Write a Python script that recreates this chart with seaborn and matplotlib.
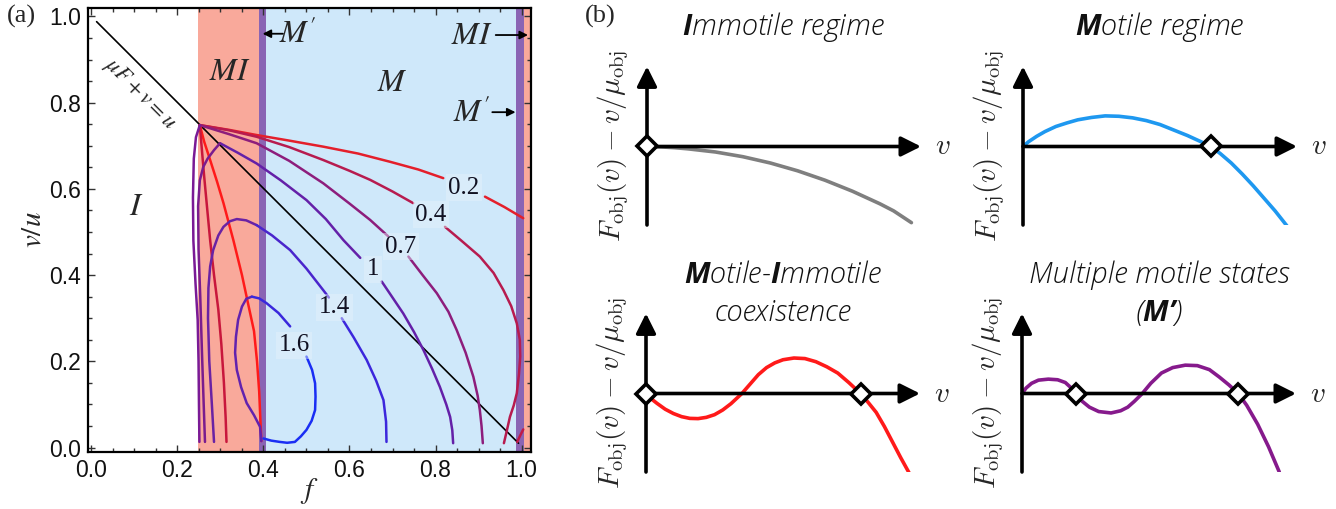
import matplotlib
matplotlib.use("Agg")
import matplotlib.pyplot as plt
import seaborn as sns
from matplotlib.ticker import MultipleLocator, FormatStrFormatter

sns.set_theme(style="white")
plt.rcParams['mathtext.fontset'] = 'stix'
plt.rcParams['mathtext.bfit'] = 'Open Sans:italic:bold'

# ---------------- panel (a) data ----------------
# region boundaries along f: I | MI | M' | M | M' | MI
region_edges = [0.248, 0.390, 0.407, 0.987, 1.006, 1.03]

# line muF + v = u
line_f = [0.012, 0.993]
line_v = [0.988, 0.010]

# contour 0.2
c02_a_f = [0.252, 0.32, 0.384, 0.46, 0.539, 0.62, 0.694, 0.76, 0.818]
c02_a_v = [0.748, 0.737, 0.725, 0.712, 0.698, 0.682, 0.663, 0.645, 0.625]
c02_b_f = [0.915, 0.96, 1.004]
c02_b_v = [0.582, 0.558, 0.532]
c02_l_f = [0.252, 0.262, 0.276, 0.292, 0.307, 0.33, 0.35, 0.365, 0.378, 0.385, 0.39, 0.393, 0.395]
c02_l_v = [0.748, 0.71, 0.667, 0.617, 0.567, 0.481, 0.40, 0.33, 0.27, 0.2, 0.13, 0.06, 0.015]
c02_r_f = [0.99, 0.997, 1.004]
c02_r_v = [0.013, 0.028, 0.042]

# contour 0.4
c04_a_f = [0.252, 0.32, 0.384, 0.46, 0.539, 0.6, 0.648, 0.70, 0.748]
c04_a_v = [0.748, 0.736, 0.721, 0.697, 0.667, 0.642, 0.621, 0.594, 0.567]
c04_b_f = [0.822, 0.86, 0.903, 0.935, 0.958, 0.976, 0.989, 0.996, 0.997, 0.994, 0.989, 0.982, 0.973, 0.966, 0.959]
c04_b_v = [0.512, 0.48, 0.443, 0.405, 0.365, 0.328, 0.288, 0.25, 0.211, 0.17, 0.126, 0.098, 0.071, 0.04, 0.01]
c04_l_f = [0.252, 0.256, 0.262, 0.269, 0.276, 0.285, 0.295, 0.302, 0.308, 0.312, 0.314]
c04_l_v = [0.748, 0.70, 0.63, 0.555, 0.481, 0.40, 0.32, 0.24, 0.15, 0.07, 0.013]

# contour 0.7
c07_a_f = [0.252, 0.32, 0.384, 0.46, 0.539, 0.6, 0.648, 0.69]
c07_a_v = [0.748, 0.727, 0.706, 0.665, 0.613, 0.566, 0.528, 0.49]
c07_b_f = [0.737, 0.77, 0.803, 0.83, 0.849, 0.87, 0.888, 0.898, 0.903, 0.907, 0.91]
c07_b_v = [0.443, 0.40, 0.358, 0.315, 0.273, 0.22, 0.164, 0.12, 0.087, 0.05, 0.01]
c07_l_f = [0.252, 0.243, 0.238, 0.236, 0.237, 0.242, 0.247, 0.249, 0.25, 0.251]
c07_l_v = [0.748, 0.72, 0.67, 0.58, 0.48, 0.38, 0.296, 0.2, 0.1, 0.013]

# contour 1
c1_a_f = [0.299, 0.34, 0.384, 0.44, 0.5, 0.545, 0.586, 0.625]
c1_a_v = [0.706, 0.684, 0.659, 0.62, 0.574, 0.53, 0.481, 0.44]
c1_b_f = [0.675, 0.70, 0.725, 0.75, 0.772, 0.792, 0.81, 0.825, 0.834, 0.839, 0.841]
c1_b_v = [0.385, 0.348, 0.311, 0.268, 0.226, 0.183, 0.141, 0.10, 0.071, 0.04, 0.01]
c1_l_f = [0.299, 0.285, 0.27, 0.26, 0.252, 0.248, 0.249, 0.253, 0.257, 0.261, 0.264]
c1_l_v = [0.706, 0.69, 0.67, 0.651, 0.62, 0.56, 0.46, 0.35, 0.22, 0.1, 0.013]

# contour 1.4
c14_l_f = [0.285, 0.28, 0.274, 0.271, 0.272, 0.276, 0.283, 0.295, 0.307, 0.322, 0.338, 0.36, 0.384]
c14_l_v = [0.013, 0.1, 0.2, 0.3, 0.37, 0.42, 0.458, 0.492, 0.512, 0.525, 0.53, 0.527, 0.516]
c14_a_f = [0.384, 0.42, 0.462, 0.5, 0.539, 0.552]
c14_a_v = [0.516, 0.492, 0.458, 0.415, 0.365, 0.348]
c14_b_f = [0.582, 0.61, 0.64, 0.662, 0.679, 0.685, 0.686]
c14_b_v = [0.30, 0.255, 0.203, 0.155, 0.11, 0.06, 0.013]

# contour 1.6 (closed loop)
c16_l_f = [0.395, 0.392, 0.378, 0.361, 0.348, 0.338, 0.334, 0.336, 0.341, 0.35, 0.36, 0.373]
c16_l_v = [0.015, 0.048, 0.075, 0.103, 0.14, 0.18, 0.22, 0.257, 0.296, 0.327, 0.345, 0.35]
c16_a_f = [0.373, 0.39, 0.407, 0.435, 0.462]
c16_a_v = [0.35, 0.346, 0.335, 0.312, 0.281]
c16_b_f = [0.50, 0.513, 0.52, 0.521, 0.52, 0.512, 0.50, 0.487, 0.473, 0.455, 0.438, 0.418, 0.40]
c16_b_v = [0.211, 0.18, 0.149, 0.118, 0.087, 0.062, 0.041, 0.026, 0.013, 0.011, 0.013, 0.016, 0.021]

contour_labels = ['0.2', '0.4', '0.7', '1', '1.4', '1.6']
label_f = [0.866, 0.789, 0.720, 0.655, 0.565, 0.471]
label_v = [0.603, 0.540, 0.466, 0.414, 0.325, 0.237]

# ---------------- panel (b) data ----------------
imm_x = [0.0, 0.05, 0.1, 0.15, 0.2, 0.25, 0.3, 0.35, 0.4, 0.45, 0.5, 0.55, 0.6, 0.65, 0.7,
         0.75, 0.8, 0.85, 0.9, 0.965]
imm_y = [0.0, -0.005, -0.015, -0.03, -0.05, -0.07, -0.1, -0.13, -0.17, -0.21, -0.26, -0.31,
         -0.37, -0.43, -0.5, -0.57, -0.65, -0.73, -0.82, -0.97]
imm_roots = [0.0]

mot_x = [0.0, 0.02, 0.05, 0.08, 0.12, 0.16, 0.2, 0.25, 0.3, 0.35, 0.4, 0.45, 0.5, 0.55, 0.6,
         0.65, 0.686, 0.72, 0.76, 0.8, 0.84, 0.88, 0.92, 0.963]
mot_y = [0.0, 0.06, 0.13, 0.19, 0.255, 0.3, 0.34, 0.37, 0.39, 0.385, 0.365, 0.33, 0.28, 0.21,
         0.14, 0.06, 0.0, -0.09, -0.21, -0.35, -0.5, -0.66, -0.82, -1.01]
mot_roots = [0.686]

coex_x = [0.0, 0.02, 0.04, 0.07, 0.1, 0.13, 0.16, 0.19, 0.22, 0.25, 0.28, 0.31, 0.35, 0.38,
          0.41, 0.44, 0.47, 0.5, 0.54, 0.58, 0.62, 0.66, 0.7, 0.74, 0.783, 0.81, 0.84, 0.87,
          0.9, 0.93, 0.964]
coex_y = [0.0, -0.07, -0.125, -0.2, -0.255, -0.295, -0.317, -0.32, -0.304, -0.27, -0.21, -0.13,
          0.0, 0.12, 0.24, 0.33, 0.39, 0.43, 0.452, 0.445, 0.405, 0.34, 0.26, 0.14, 0.0, -0.11,
          -0.24, -0.42, -0.62, -0.82, -1.035]
coex_roots = [0.0, 0.783]

mult_x = [0.0, 0.015, 0.035, 0.06, 0.096, 0.13, 0.158, 0.18, 0.196, 0.22, 0.246, 0.28, 0.325,
          0.36, 0.386, 0.41, 0.439, 0.47, 0.509, 0.55, 0.596, 0.64, 0.684, 0.72, 0.755, 0.789,
          0.82, 0.86, 0.9, 0.939]
mult_y = [0.0, 0.07, 0.13, 0.17, 0.183, 0.175, 0.14, 0.07, 0.0, -0.1, -0.174, -0.23, -0.248,
          -0.22, -0.174, -0.1, 0.0, 0.13, 0.261, 0.33, 0.361, 0.355, 0.304, 0.21, 0.11, 0.0,
          -0.15, -0.391, -0.68, -1.0]
mult_roots = [0.196, 0.789]

W, H = 1336, 509
fig = plt.figure(figsize=(W / 100, H / 100), dpi=100)

RED = '#f9a99b'
PURP = '#8a64b4'
BLUE = '#cfe8fa'
serif = 'Liberation Serif'


def curve(ax, f, v, color, lw=1.8):
    sns.lineplot(x=f, y=v, ax=ax, color=color, linewidth=lw, sort=False, estimator=None)


ax = fig.add_axes([88 / W, 1 - 452 / H, 443 / W, 444 / H])
band_colors = [RED, PURP, BLUE, PURP, RED]
for i, c in enumerate(band_colors):
    ax.axvspan(region_edges[i], region_edges[i + 1], color=c, lw=0, zorder=0)

curve(ax, line_f, line_v, 'black', lw=1.2)

curve(ax, c02_a_f, c02_a_v, '#e41f2b')
curve(ax, c02_b_f, c02_b_v, '#e41f2b')
curve(ax, c02_l_f, c02_l_v, '#ff1a1a')
curve(ax, c02_r_f, c02_r_v, '#c01a48')
curve(ax, c04_a_f, c04_a_v, '#b71b4f')
curve(ax, c04_b_f, c04_b_v, '#b71b4f')
curve(ax, c04_l_f, c04_l_v, '#c8173c')
curve(ax, c07_a_f, c07_a_v, '#8d1d7c')
curve(ax, c07_b_f, c07_b_v, '#8d1d7c')
curve(ax, c07_l_f, c07_l_v, '#7a1a96')
curve(ax, c1_a_f, c1_a_v, '#6420a8')
curve(ax, c1_b_f, c1_b_v, '#6420a8')
curve(ax, c1_l_f, c1_l_v, '#7a1c8e')
curve(ax, c14_l_f, c14_l_v, '#6a22a4')
curve(ax, c14_a_f, c14_a_v, '#4a25cc')
curve(ax, c14_b_f, c14_b_v, '#3c27dc')
curve(ax, c16_l_f, c16_l_v, '#6222ae')
curve(ax, c16_a_f, c16_a_v, '#3a28dc')
curve(ax, c16_b_f, c16_b_v, '#1a2ef4')

for t, fx, vy in zip(contour_labels, label_f, label_v):
    ax.text(fx, vy, t, ha='center', va='center', fontsize=18, family=serif, color='#111122',
            bbox=dict(boxstyle='square,pad=0.1', fc='#e6f3fc', ec='none', alpha=0.45))

ax.text(0.322, 0.873, r'$MI$', fontsize=23, ha='center', va='center')
ax.text(0.70, 0.846, r'$M$', fontsize=23, ha='center', va='center')
ax.text(0.105, 0.56, r'$I$', fontsize=23, ha='center', va='center')
ax.text(0.48, 0.958, r"$M'$", fontsize=23, ha='center', va='center')
ax.text(0.885, 0.955, r'$MI$', fontsize=23, ha='center', va='center')
ax.text(0.885, 0.776, r"$M'$", fontsize=23, ha='center', va='center')
arrow_kw = dict(arrowstyle='-|>', color='black', lw=1.3, mutation_scale=12, shrinkA=0, shrinkB=0)
ax.annotate('', xy=(0.398, 0.96), xytext=(0.445, 0.96), arrowprops=arrow_kw)
ax.annotate('', xy=(1.015, 0.957), xytext=(0.94, 0.957), arrowprops=arrow_kw, annotation_clip=False)
ax.annotate('', xy=(0.986, 0.778), xytext=(0.932, 0.778), arrowprops=arrow_kw)
ax.text(0.112, 0.82, r'$\mu F + v = u$', fontsize=16, rotation=-45, ha='center', va='center',
        rotation_mode='anchor')

ax.set_xlim(-0.008, 1.022)
ax.set_ylim(-0.0104, 1.0197)
ax.xaxis.set_major_locator(MultipleLocator(0.2))
ax.yaxis.set_major_locator(MultipleLocator(0.2))
ax.xaxis.set_minor_locator(MultipleLocator(0.05))
ax.yaxis.set_minor_locator(MultipleLocator(0.05))
ax.xaxis.set_major_formatter(FormatStrFormatter('%.1f'))
ax.yaxis.set_major_formatter(FormatStrFormatter('%.1f'))
ax.tick_params(which='both', direction='in', top=True, right=True, bottom=True, left=True,
               color='#333333', width=1.0, labelsize=16.5, labelcolor='#111111', pad=5)
ax.tick_params(which='major', length=5)
ax.tick_params(which='minor', length=3)
for lab in ax.get_xticklabels() + ax.get_yticklabels():
    lab.set_family('Liberation Sans')
for s in ax.spines.values():
    s.set_linewidth(1.6)
    s.set_color('black')
ax.set_xlabel(r'$f$', fontsize=21, labelpad=-4)
ax.set_ylabel(r'$v/u$', fontsize=21, labelpad=2)
ax.grid(False)

fig.text(21 / W, 1 - 16 / H, '(a)', family=serif, fontsize=19, ha='center', va='center')
fig.text(600 / W, 1 - 16 / H, '(b)', family=serif, fontsize=19, ha='center', va='center')


# ---------------- panel (b) ----------------
def schematic(left, top, xs, ys, color, roots, titles, title_y):
    bax = fig.add_axes([left / W, 1 - (top + 157) / H, 274 / W, 157 / H])
    bax.set_xlim(0, 1)
    bax.set_ylim(-1, 1)
    bax.axis('off')
    kw = dict(arrowstyle='-|>', color='black', lw=2.6, mutation_scale=30, shrinkA=0, shrinkB=0)
    bax.annotate('', xy=(1, 0), xytext=(0, 0), arrowprops=kw, annotation_clip=False)
    bax.annotate('', xy=(0, 1.02), xytext=(0, -1), arrowprops=kw, annotation_clip=False)
    sns.lineplot(x=xs, y=ys, ax=bax, color=color, linewidth=2.6, sort=False, estimator=None)
    bax.plot(roots, [0] * len(roots), 'D', ms=10, mfc='white', mec='black', mew=2.6,
             clip_on=False, zorder=5)
    bax.text(1.05, 0, r'$v$', fontsize=21, va='center', ha='left', math_fontfamily='cm')
    fig.text((left - 34) / W, 1 - (top + 78) / H, r'$F_{\mathrm{obj}}(v)-v/\mu_{\mathrm{obj}}$',
             rotation=90, fontsize=21, ha='center', va='center', math_fontfamily='cm')
    for k, t in enumerate(titles):
        fig.text((left + 137) / W, 1 - (title_y + 38 * k) / H, t, ha='center', va='center',
                 fontsize=21, family='Open Sans', style='italic', weight='light',
                 color='#111111', math_fontfamily='custom')


schematic(647, 68, imm_x, imm_y, '#7f7f7f', imm_roots, [r'$\mathbfit{I}$mmotile regime'], 27)
schematic(1023, 68, mot_x, mot_y, '#1e98f0', mot_roots, [r'$\mathbfit{M}$otile regime'], 27)
schematic(646, 315, coex_x, coex_y, '#ff1a1a', coex_roots,
          [r'$\mathbfit{M}$otile-$\mathbfit{I}$mmotile', 'coexistence'], 275)
schematic(1022, 315, mult_x, mult_y, '#861a8c', mult_roots,
          ['Multiple motile states', r'($\mathbfit{M’}$)'], 275)

fig.savefig('out.png', dpi=100)
